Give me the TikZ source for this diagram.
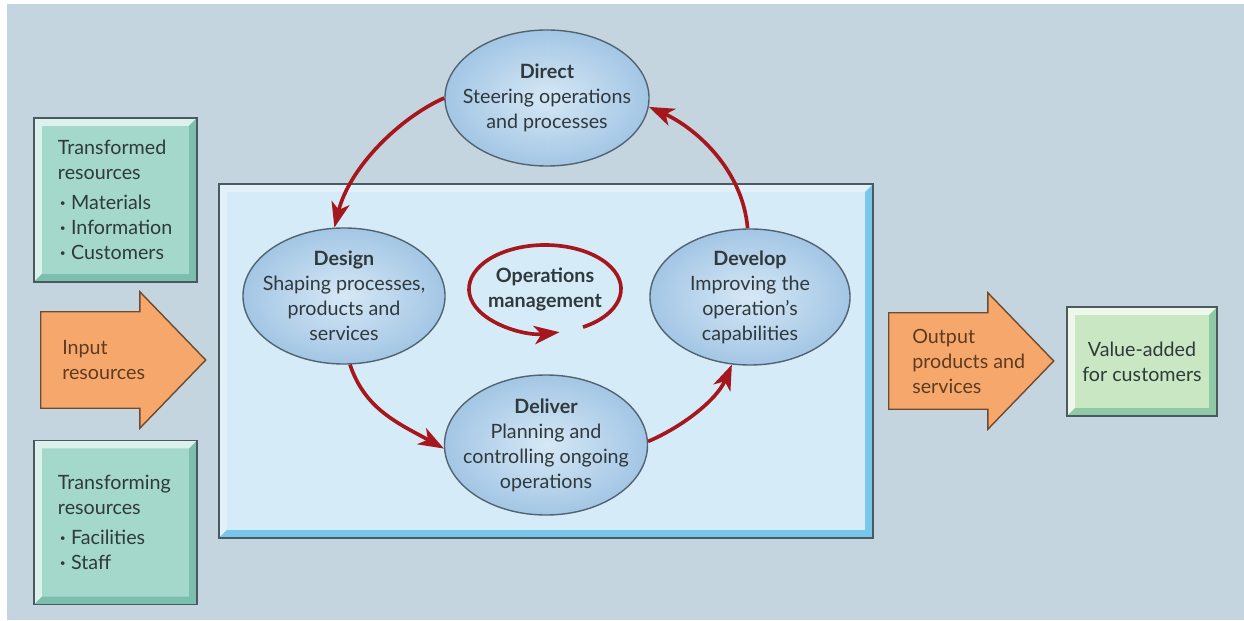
\documentclass[tikz,border=0pt]{standalone}
\usepackage{fontspec}
\setmainfont{Lato}
\usetikzlibrary{shapes.geometric, shapes.arrows, arrows.meta, positioning, calc}

\definecolor{bgblue}{HTML}{C4D5DF}
\definecolor{edgegray}{HTML}{4B5A5E}
\definecolor{tealfill}{HTML}{A3D8CA}
\definecolor{teallight}{HTML}{DCF1EC}
\definecolor{tealdark}{HTML}{7DBFAE}
\definecolor{orangefill}{HTML}{F6A86C}
\definecolor{orangeedge}{HTML}{6E4A2E}
\definecolor{orangetext}{HTML}{5E3B20}
\definecolor{greenfill}{HTML}{C9E7C3}
\definecolor{greenlight}{HTML}{EDF7EA}
\definecolor{greendark}{HTML}{8FC9A6}
\definecolor{areafill}{HTML}{D5EBF7}
\definecolor{arealight}{HTML}{E2F1F9}
\definecolor{areadark}{HTML}{78C6EC}
\definecolor{stagelight}{HTML}{D6E8F5}
\definecolor{stagedark}{HTML}{A3C6E5}
\definecolor{stageedge}{HTML}{536470}
\definecolor{loopred}{HTML}{A5161D}
\definecolor{textgray}{HTML}{30393C}

\begin{document}
\begin{tikzpicture}[
  x=0.025cm, y=0.025cm,
  font=\fontsize{14}{17.8}\selectfont,
  % ── Style definitions ──
  bevel/.style 2 args={path picture={
      \fill[#1] (path picture bounding box.south west)
        -- (path picture bounding box.north west)
        -- (path picture bounding box.north east)
        -- ++(-8,-8) -| ([shift={(8,8)}]path picture bounding box.south west)
        -- cycle;
      \fill[#2] (path picture bounding box.south west)
        -- (path picture bounding box.south east)
        -- (path picture bounding box.north east)
        -- ++(-8,-8) |- ([shift={(8,8)}]path picture bounding box.south west)
        -- cycle;
  }},
  resbox/.style={
    rectangle, draw=edgegray, line width=1pt,
    fill=tealfill, bevel={teallight}{tealdark},
    minimum height=4.1cm, text width=2.875cm,
    inner xsep=0.6cm, align=left, text=textgray
  },
  area/.style={
    rectangle, draw=edgegray, line width=1pt,
    fill=areafill, bevel={arealight}{areadark},
    minimum width=16.35cm, minimum height=8.85cm
  },
  stage/.style={
    ellipse, draw=stageedge, line width=1pt,
    inner color=stagelight, outer color=stagedark,
    inner xsep=-0.55cm, inner ysep=-0.15cm,
    align=center, text=textgray, minimum height=3.4cm
  },
  flow/.style={
    single arrow, draw=orangeedge, line width=1pt, fill=orangefill,
    minimum height=4.125cm, inner xsep=0pt, inner ysep=1.1875cm,
    single arrow head extend=0.5cm, single arrow tip angle=92,
    anchor=tail
  },
  flowtext/.style={anchor=west, inner sep=0pt, align=left, text=orangetext},
  valbox/.style={
    rectangle, draw=edgegray, line width=1pt,
    fill=greenfill, bevel={greenlight}{greendark},
    minimum width=3.75cm, minimum height=2.725cm,
    align=center, text=textgray
  },
  cycle/.style={
    draw=loopred, line width=2.6pt,
    -{Stealth[length=18pt, width=13pt, inset=5pt]}
  }
]
\newcommand{\dotitem}{\hspace*{1.5pt}\textbf{·}\hspace{4pt}}
\useasboundingbox (0,0) rectangle (1244,620);
\fill[bgblue] (7,0) rectangle (1244,616);

% ─────────── Resources on the left ───────────────────────────
\node[resbox] (transformed) at (115.5,420)
  {Transformed\\resources\\[3.5pt]\dotitem Materials\\\dotitem Information\\\dotitem Customers};
\node[resbox] (transforming) at (115.5,97.5)
  {Transforming\\resources\\[3.5pt]\dotitem Facilities\\\dotitem Staff};

\node[flow] (inarrow) at (40,260) {};
\node[flowtext] (input) at ([xshift=0.55cm]inarrow.tail) {Input\\resources};

% ─────────── Operation and its four activities ───────────────
\node[area] (opsarea) at (546,259) {};

\node[stage, minimum width=5.1cm]   (direct)  at (547,522)
  {\textbf{Direct}\\Steering operations\\and processes};
\node[stage, minimum width=5.05cm]  (design)  at (344,324)
  {\textbf{Design}\\Shaping processes,\\products and\\services};
\node[stage, minimum width=5cm]     (develop) at (750,323)
  {\textbf{Develop}\\Improving the\\operation’s\\capabilities};
\node[stage, minimum width=5.075cm, minimum height=3.5cm] (deliver) at (546,175)
  {\textbf{Deliver}\\Planning and\\controlling ongoing\\operations};

\node[align=center, text=textgray, font=\fontsize{14}{17.8}\selectfont\bfseries]
  (ops) at (545,331) {Operations\\management};

% ─────────── Cycle arrows ────────────────────────────────────
\draw[cycle] (direct.west) .. controls +(-45,-20) and +(15,60) .. (design.98);
\draw[cycle] (design.-85) .. controls +(15,-45) and +(-45,25) .. (deliver.182);
\draw[cycle] (deliver.2) .. controls +(35,15) and +(-15,-35) .. (develop.-105);
\draw[cycle] (develop.92) .. controls +(-5,60) and +(45,-20) .. (direct.-5);

% loop round the label
\draw[cycle] ([shift={(-60:76 and 44)}]ops.center)
  arc[start angle=-60, end angle=281, x radius=76, y radius=44];

% ─────────── Output on the right ─────────────────────────────
\node[flow] (outarrow) at (888,259) {};
\node[flowtext] (output) at ([xshift=0.6cm]outarrow.tail)
  {Output\\products and\\services};

\node[valbox] (value) at (1142,258.5) {Value-added\\for customers};
\end{tikzpicture}
\end{document}
